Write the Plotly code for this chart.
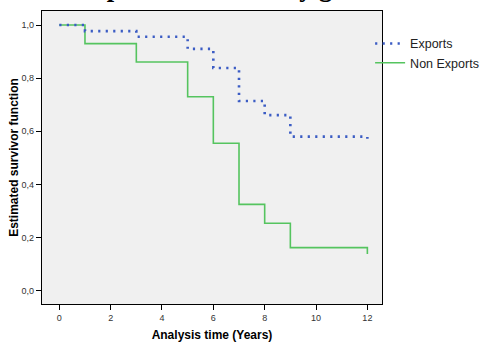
import plotly.graph_objects as go

# Kaplan-Meier step data (years, survival)
exp_time = [0, 1, 3, 5, 6, 7, 8, 9, 12]
exp_surv = [1.0, 0.977, 0.956, 0.910, 0.838, 0.714, 0.661, 0.580, 0.572]
non_time = [0, 1, 3, 5, 6, 7, 8, 9, 12]
non_surv = [1.0, 0.930, 0.861, 0.730, 0.555, 0.325, 0.254, 0.162, 0.138]
x_ticks = [0, 2, 4, 6, 8, 10, 12]
y_ticks = [0.0, 0.2, 0.4, 0.6, 0.8, 1.0]

fig = go.Figure()
fig.add_trace(go.Scatter(x=non_time, y=non_surv, mode="lines", name="Non Exports",
                         line=dict(color="#55c45f", width=1.6, shape="hv"), legendrank=2))
fig.add_trace(go.Scatter(x=exp_time, y=exp_surv, mode="lines", name="Exports",
                         line=dict(color="#3b5cc4", width=2.6, shape="hv", dash="2.2px,5.3px"), legendrank=1))

fig.update_layout(
    width=480, height=343,
    margin=dict(l=42, r=98, t=11, b=39, autoexpand=False),
    paper_bgcolor="white", plot_bgcolor="#f0f0f0",
    separators=",.",
    font=dict(family="Liberation Sans, Arial, sans-serif", size=9, color="#333"),
    showlegend=True,
    legend=dict(x=0.965, y=0.939, xanchor="left", yanchor="top", bgcolor="rgba(0,0,0,0)",
                font=dict(size=12.5, color="#222"), tracegroupgap=0, itemwidth=30),
    xaxis=dict(range=[-0.674, 12.57], tickvals=x_ticks, ticks="outside", ticklen=5,
               showgrid=False, zeroline=False, showline=True, linecolor="black", linewidth=1.2,
               mirror=True, tickcolor="black",
               title=dict(text="<b>Analysis time (Years)</b>", font=dict(size=12, color="black"), standoff=8)),
    yaxis=dict(range=[-0.050, 1.0527], tickvals=y_ticks, tickformat=".1f", ticks="outside", ticklen=5,
               showgrid=False, zeroline=False, showline=True, linecolor="black", linewidth=1.2,
               mirror=True, tickcolor="black",
               title=dict(text="<b>Estimated survivor function</b>", font=dict(size=12, color="black"), standoff=0)),
    annotations=[dict(text="<b>empresas medianas y grandes:</b>", xref="paper", yref="paper",
                      x=0.5985, y=1.0, xanchor="center", yanchor="bottom", yshift=6.5, showarrow=False,
                      font=dict(family="Liberation Serif, Times New Roman, serif", size=26.5, color="black"))],
)

fig.write_html("out.html", config={"displayModeBar": False},
               post_script="document.body.style.margin='0';")
